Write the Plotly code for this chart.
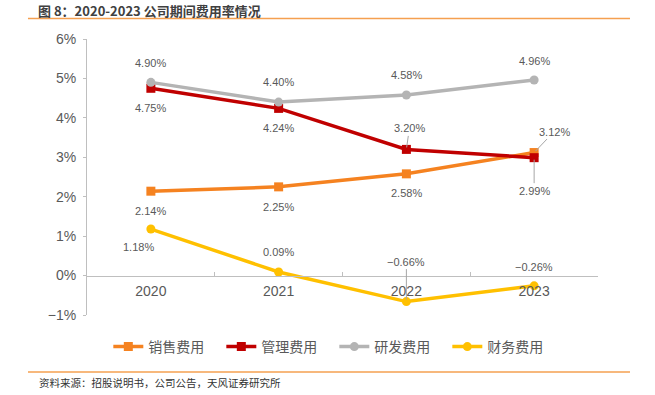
import plotly.graph_objects as go

years = ["2020", "2021", "2022", "2023"]
series_names = ["销售费用", "管理费用", "研发费用", "财务费用"]
sales = [2.14, 2.25, 2.58, 3.12]
admin = [4.75, 4.24, 3.20, 2.99]
rnd = [4.90, 4.40, 4.58, 4.96]
finance = [1.18, 0.09, -0.66, -0.26]
y_ticks = [-1, 0, 1, 2, 3, 4, 5, 6]

colors = ["#F58220", "#C00000", "#B4B4B4", "#FFC000"]
symbols = ["square", "square", "circle", "circle"]
values = [sales, admin, rnd, finance]

# label offsets (dx, dy in pixels, leader flag) per series/point
offsets = [
    [(0, 20, False), (0, 20, False), (0, 19, False), (20, -21, True)],
    [(0, 20, False), (0, 20, False), (3, -21, True), (0, 33, True)],
    [(0, -19, False), (0, -20, False), (0, -20, False), (0, -19, False)],
    [(-12, 18, False), (0, -20, False), (0, -40, True), (0, -19, False)],
]

FONT = "Liberation Sans, Arial, Noto Sans CJK SC, sans-serif"
CJK = "Noto Sans CJK SC, Liberation Sans, sans-serif"
PCT = "&#37;"

def fmt(v, nd=2):
    s = f"{abs(v):.{nd}f}" + PCT
    return ("\u2212" + s) if v < 0 else s

fig = go.Figure()
for name, vals, c, sym in zip(series_names, values, colors, symbols):
    fig.add_trace(go.Scatter(
        x=years, y=vals, name=name, mode="lines+markers",
        line=dict(color=c, width=3.5),
        marker=dict(symbol=sym, size=9, color=c),
        hoverinfo="skip",
    ))

annotations = []
for vals, offs in zip(values, offsets):
    for i, (v, (dx, dy, lead)) in enumerate(zip(vals, offs)):
        if lead:
            annotations.append(dict(
                x=i, y=v, xref="x", yref="y", text=fmt(v), showarrow=True,
                ax=dx, ay=dy, arrowhead=0, arrowwidth=1, arrowcolor="#A6A6A6",
                standoff=2, font=dict(family=FONT, size=11, color="#595959")))
        else:
            annotations.append(dict(
                x=i, y=v, xref="x", yref="y", text=fmt(v), showarrow=False,
                xshift=dx, yshift=-dy, font=dict(family=FONT, size=11, color="#595959")))

annotations.append(dict(
    x=-0.098, y=1.141, xref="paper", yref="paper", xanchor="left", yanchor="top",
    text="<b>图 8：2020-2023 公司期间费用率情况</b>", showarrow=False, borderpad=0,
    font=dict(family=CJK, size=13, color="#404040")))
annotations.append(dict(
    x=-0.098, y=-0.246, xref="paper", yref="paper", xanchor="left", yanchor="middle",
    text="资料来源：招股说明书，公司公告，天风证券研究所", showarrow=False,
    font=dict(family=CJK, size=10.5, color="#333333")))

shapes = [
    dict(type="line", xref="paper", yref="paper", x0=-0.1155, x1=1.0626, y0=1.0743, y1=1.0743,
         line=dict(color="#F5A050", width=1.5)),
    dict(type="line", xref="paper", yref="paper", x0=-0.1155, x1=1.0626, y0=-0.2065, y1=-0.2065,
         line=dict(color="#F5A050", width=1.5)),
]

fig.update_layout(
    width=655, height=395,
    margin=dict(l=87, r=57, t=39, b=80),
    paper_bgcolor="white", plot_bgcolor="white",
    showlegend=True, hovermode=False,
    legend=dict(orientation="h", x=0.484, xanchor="center", y=-0.116, yanchor="middle",
                font=dict(family=CJK, size=14, color="#595959"), itemwidth=30,
                entrywidth=68, entrywidthmode="pixels", tracegroupgap=0),
    annotations=annotations, shapes=shapes,
    xaxis=dict(type="category", range=[-0.5, 3.5], anchor="free", position=1/7,
               showline=True, linecolor="#BFBFBF", linewidth=1,
               ticks="inside", tickson="boundaries", ticklen=4, tickcolor="#BFBFBF",
               showgrid=False, zeroline=False, ticklabelstandoff=3,
               tickfont=dict(family=FONT, size=14, color="#595959")),
    yaxis=dict(range=[-1, 6], tickmode="array", tickvals=y_ticks,
               ticktext=[fmt(t, 0) for t in y_ticks],
               showline=True, linecolor="#BFBFBF", linewidth=1,
               ticks="outside", ticklen=3, tickcolor="#BFBFBF",
               showgrid=False, zeroline=False, ticklabelstandoff=4,
               tickfont=dict(family=FONT, size=14, color="#595959")),
)

fig.write_html("out.html", config={"displayModeBar": False, "staticPlot": True},
               post_script="document.body.style.margin='0';document.body.style.padding='0';")
